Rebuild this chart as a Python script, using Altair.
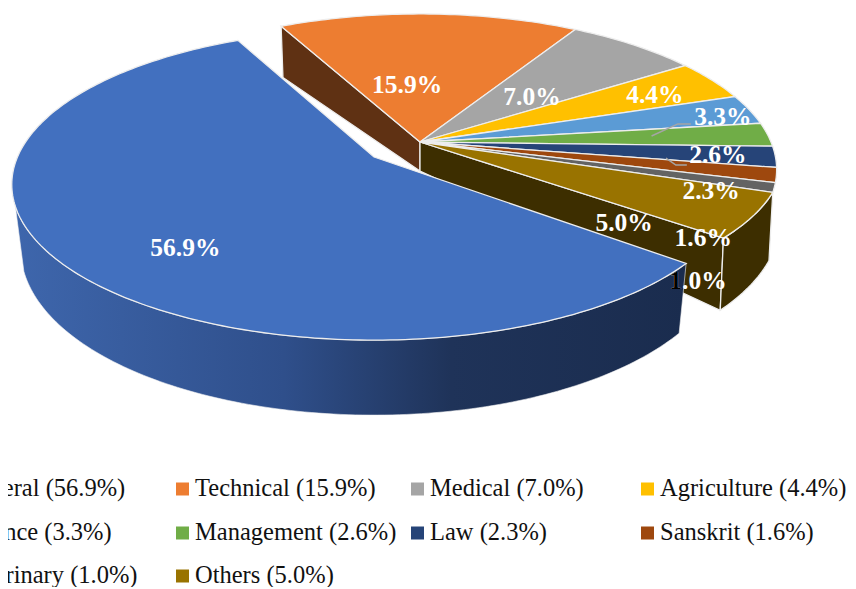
import math
import altair as alt
import pandas as pd

# ---- data
categories = ["General", "Technical", "Medical", "Agriculture", "Science",
              "Management", "Law", "Sanskrit", "Veterinary", "Others"]
shares = [56.9, 15.9, 7.0, 4.4, 3.3, 2.6, 2.3, 1.6, 1.0, 5.0]
top_colors = ["#4270BF", "#ED7D31", "#A5A5A5", "#FFC000", "#5B9BD5",
              "#70AD47", "#264478", "#9E480E", "#636363", "#997300"]

# ---- layout of the tilted pie (page pixels)
START = 128.9
APEX = (420, 142)
A, K, B = 150.7, 0.177, 354.0
EXPLODE = {"General": (-46, 15)}
RIM_B = {"General": 356.5}
APEX_DEPTH = 29
WALL_END = 252
LABEL_POLAR = {"General": (221.4, .728), "Technical": (-5.5, .407), "Medical": (46.7, .459),
               "Agriculture": (64.8, .776), "Science": (79, .898), "Management": (95.9, .833),
               "Law": (111.5, .836), "Sanskrit": (128.5, .919), "Veterinary": (139.5, 1.04),
               "Others": (133, .72)}
LEADERS = {"Science": (86.5, .66, (-45, 7), (-32, 7)),
           "Management": (98.8, .69, (-42, 10), (-31, 10))}
LABEL_FONT = 25.5


def project(theta, r=1.0, name=None, b=B):
    t = math.radians(theta)
    X, Y = r * math.sin(t), -r * math.cos(t)
    d = 1 - K * Y
    ox, oy = EXPLODE.get(name, (0, 0))
    return (APEX[0] + ox + b * X / d, APEX[1] + oy + A * Y / d)


def warp(theta):
    """The drawn pie is not a true projection: small angular lag of the rim."""
    th = (theta + 30) % 360 - 30
    if th <= 60:
        return th - (60 - th) / 87
    return th - min(2.5, 3.5 * (th - 60) / 69)


def shrink(theta):
    """Towards its far corner the Others rim falls slightly inside the ellipse."""
    th = (theta + 30) % 360 - 30
    return 1 - 0.035 * max(0.0, th - 111) / 18


def rim(theta, name=None):
    if name == "General":
        return project(theta, 1.0, name, RIM_B["General"])
    return project(warp(theta), shrink(theta), None, 351.0)


def under(theta, name=None):
    th = theta if name == "General" else warp(theta)
    t = math.radians(th)
    X, Y = math.sin(t), -math.cos(t)
    x, y = rim(theta, name)
    if name == "General":
        return (x - 9 * X, y + 60.8 + 14.2 * Y)
    return (x - 4 * X, y + 63.8 + 14.2 * Y)


def sweep(a, b):
    n = max(2, int(abs(b - a)) + 1)
    return [a + (b - a) * i / n for i in range(n + 1)]


def feature(coords, fill, stroke="#EDEDED", sw=1.3):
    pts = [list(p) for p in coords] + [list(coords[0])]
    return {"type": "Feature", "geometry": {"type": "Polygon", "coordinates": [pts]},
            "properties": {"fill": fill, "stroke": stroke, "sw": sw}}


spans = {}
cur = START
for c, s in zip(categories, shares):
    spans[c] = (cur, cur + s * 3.6)
    cur += s * 3.6

back, tops = [], []
# cut wall of Technical, seen behind General
a0 = spans["Technical"][0]
back.append(feature([rim(a0), under(a0), (APEX[0], APEX[1] + APEX_DEPTH), APEX], "#5F3113"))
# cut wall and rim wall of Others
a0, a1 = spans["Others"]
back.append(feature([APEX, (APEX[0], APEX[1] + APEX_DEPTH), under(a1), rim(a1)], "#3D2E00"))
back.append(feature([rim(t) for t in sweep(a0, a1)] + [under(t) for t in sweep(a1, a0)], "#3D2E00"))
for c, col in zip(categories[1:], top_colors[1:]):
    a0, a1 = spans[c]
    tops.append(feature([APEX] + [rim(t) for t in sweep(a0, a1)], col))

a0, a1 = spans["General"]
blue_wall = feature([rim(t, "General") for t in sweep(a0, WALL_END)] +
                    [under(t, "General") for t in sweep(WALL_END, a0)], "none", "#F4F4F4", .6)
blue_top = feature([project(0, 0, "General")] + [rim(t, "General") for t in sweep(a0, a1)], top_colors[0])


def shapes(feats, **kw):
    return alt.Chart(alt.InlineData(values=feats, format=alt.DataFormat(type="json"))).mark_geoshape(**kw).encode(
        fill=alt.Fill("properties.fill:N", scale=None),
        stroke=alt.Stroke("properties.stroke:N", scale=None),
        strokeWidth=alt.StrokeWidth("properties.sw:Q", scale=None))


wall_gradient = alt.LinearGradient(
    gradient="linear", x1=0, x2=1, y1=0, y2=0,
    stops=[alt.GradientStop(color="#3E66AC", offset=0),
           alt.GradientStop(color="#2F4F8B", offset=.4),
           alt.GradientStop(color="#1F3359", offset=.65),
           alt.GradientStop(color="#1A2C4E", offset=1)])
wall_layer = alt.Chart(alt.InlineData(values=[blue_wall], format=alt.DataFormat(type="json"))).mark_geoshape(
    fill=wall_gradient, stroke="#F4F4F4", strokeWidth=.6)

# percentage labels
rows = []
for c, s in zip(categories, shares):
    th, r = LABEL_POLAR[c]
    x, y = project(th, r, c)
    rows.append({"name": c, "x": x, "y": y, "label": f"{s:.1f}%"})
labels = pd.DataFrame(rows)
label_layer = alt.Chart(labels).mark_text(font="Liberation Serif", fontWeight="bold", fontSize=LABEL_FONT,
                                          color="white", align="center", baseline="middle").encode(
    longitude="x:Q", latitude="y:Q", text="label:N")
vet = labels[labels.name == "Veterinary"].iloc[0]
ink = pd.DataFrame([{"x": vet.x - 1.125 * LABEL_FONT, "y": vet.y, "label": vet.label[:1]}])
ink_layer = alt.Chart(ink).mark_text(font="Liberation Serif", fontWeight="bold", fontSize=LABEL_FONT,
                                     color="black", align="left", baseline="middle").encode(
    longitude="x:Q", latitude="y:Q", text="label:N")

# leader lines
lines = []
for c, (th, r, elbow, end) in LEADERS.items():
    lab = labels[labels.name == c].iloc[0]
    p = project(th, r)
    lines.append({"type": "Feature", "properties": {}, "geometry": {"type": "LineString", "coordinates": [
        list(p), [lab.x + elbow[0], lab.y + elbow[1]], [lab.x + end[0], lab.y + end[1]]]}})
leader_layer = alt.Chart(alt.InlineData(values=lines, format=alt.DataFormat(type="json"))).mark_geoshape(
    filled=False, stroke="#A5A5A5", strokeWidth=1.5)

# legend
COL_X = [-57, 176, 411, 641]
ROW_Y = [489, 533, 576]
leg = []
for i, (c, s, col) in enumerate(zip(categories, shares, top_colors)):
    cx, cy = COL_X[i % 4], ROW_Y[i // 4]
    leg.append({"sx": cx + 6.5, "tx": cx + 19, "y": cy, "text": f"{c} ({s:.1f}%)", "color": col})
legend = pd.DataFrame(leg)
swatch_layer = alt.Chart(legend).mark_square(size=169, opacity=1).encode(
    longitude="sx:Q", latitude="y:Q", color=alt.Color("color:N", scale=None))
legend_text = alt.Chart(legend).mark_text(font="Liberation Serif", fontSize=24.5, color="#111111",
                                          align="left", baseline="middle").encode(
    longitude="tx:Q", latitude="y:Q", text="text:N")

chart = alt.layer(
    shapes(back), shapes(tops), wall_layer, shapes([blue_top]),
    leader_layer, label_layer, ink_layer, swatch_layer, legend_text
).project(type="identity", scale=1, translate=[-8, -8]).properties(
    width=840, height=579, padding=0, background="white",
    autosize=alt.AutoSizeParams(type="none")
).configure_view(stroke=None)

chart.save("out.html", embed_options={"renderer": "svg", "actions": False})
